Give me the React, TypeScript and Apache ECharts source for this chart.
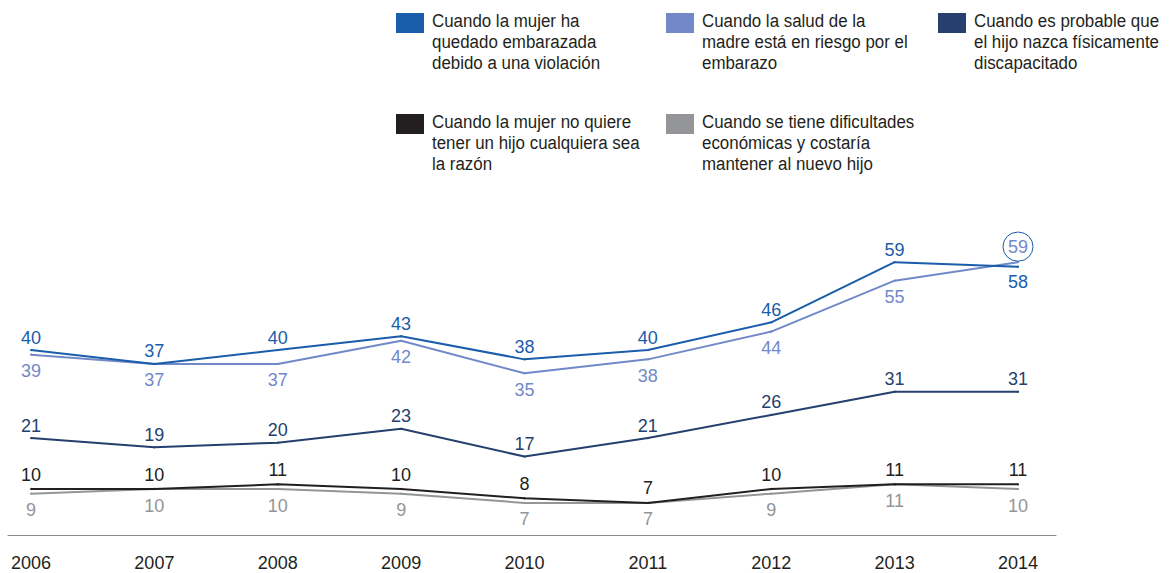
import React, { useEffect, useRef } from "react";
import * as echarts from "echarts";

const years = ["2006", "2007", "2008", "2009", "2010", "2011", "2012", "2013", "2014"];

const seriesNames = [
  "Cuando la mujer ha quedado embarazada debido a una violación",
  "Cuando la salud de la madre está en riesgo por el embarazo",
  "Cuando es probable que el hijo nazca físicamente discapacitado",
  "Cuando la mujer no quiere tener un hijo cualquiera sea la razón",
  "Cuando se tiene dificultades económicas y costaría mantener al nuevo hijo",
];

const legendLines = [
  "Cuando la mujer ha\nquedado embarazada\ndebido a una violación",
  "Cuando la salud de la\nmadre está en riesgo por el\nembarazo",
  "Cuando es probable que\nel hijo nazca físicamente\ndiscapacitado",
  "Cuando la mujer no quiere\ntener un hijo cualquiera sea\nla razón",
  "Cuando se tiene dificultades\neconómicas y costaría\nmantener al nuevo hijo",
];

const violacion = [40, 37, 40, 43, 38, 40, 46, 59, 58];
const saludMadre = [39, 37, 37, 42, 35, 38, 44, 55, 59];
const discapacitado = [21, 19, 20, 23, 17, 21, 26, 31, 31];
const noQuiere = [10, 10, 11, 10, 8, 7, 10, 11, 11];
const economicas = [9, 10, 10, 9, 7, 7, 9, 11, 10];

const colors = ["#1a5dab", "#7189c8", "#253f6e", "#231f20", "#939598"];
const labelPos = ["top", "bottom", "top", "top", "bottom"];
const labelDist = [2, 6, 2, 4, 6];

const FONT = "'Liberation Sans', Arial, sans-serif";

const legendSpots = [
  [396, 13],
  [666, 13],
  [938, 13],
  [396, 114],
  [666, 114],
];

export default function App() {
  const ref = useRef<HTMLDivElement>(null);
  useEffect(() => {
    if (!ref.current) return;
    const chart = echarts.init(ref.current, null, { renderer: "svg" });
    const allData = [violacion, saludMadre, discapacitado, noQuiere, economicas];
    const last = years.length - 1;

    const series = allData.map((vals, si) => ({
      name: seriesNames[si],
      type: "line",
      xAxisIndex: 0,
      yAxisIndex: 0,
      symbol: "circle",
      symbolSize: 2,
      showSymbol: true,
      z: 10 - si,
      lineStyle: { color: colors[si], width: 2 },
      itemStyle: { color: colors[si] },
      label: {
        show: true,
        position: labelPos[si],
        distance: labelDist[si],
        color: colors[si],
        fontFamily: FONT,
        fontSize: 18,
        lineHeight: 19,
      },
      data: vals.map((v, i) => {
        if (si === 0 && i === last) {
          return { value: v, label: { position: "bottom", distance: 5 } };
        }
        if (si === 1 && i === last) {
          return {
            value: v,
            label: {
              position: "top",
              distance: 0,
              borderColor: colors[0],
              borderWidth: 1,
              borderRadius: 15,
              padding: [5, 5, 5, 5],
            },
          };
        }
        return v;
      }),
    }));

    const legendGraphics = legendLines.map((txt, i) => ({
      type: "group",
      x: legendSpots[i][0],
      y: legendSpots[i][1],
      children: [
        {
          type: "rect",
          shape: { x: 0, y: 0, width: 28, height: 20 },
          style: { fill: colors[i] },
        },
        {
          type: "text",
          x: 36,
          y: -3,
          scaleX: 0.89,
          style: {
            text: txt,
            fill: "#231f20",
            font: `19px ${FONT}`,
            lineHeight: 21,
            verticalAlign: "top",
          },
        },
      ],
    }));

    chart.setOption({
      animation: false,
      backgroundColor: "#ffffff",
      grid: [
        { left: 31, right: 158, top: 257.5, bottom: 37.7 },
        { left: 8, right: 120, top: 257.5, bottom: 37.7 },
      ],
      xAxis: [
        {
          type: "category",
          gridIndex: 0,
          data: years,
          boundaryGap: false,
          axisLine: { show: false },
          axisTick: { show: false },
          splitLine: { show: false },
          axisLabel: {
            color: "#231f20",
            fontFamily: FONT,
            fontSize: 18,
            margin: 19,
          },
        },
        {
          type: "value",
          gridIndex: 1,
          min: 0,
          max: 1,
          axisLine: { show: true, lineStyle: { color: "#8a8a8a", width: 1 } },
          axisTick: { show: false },
          axisLabel: { show: false },
          splitLine: { show: false },
        },
      ],
      yAxis: [
        { type: "value", gridIndex: 0, min: 0, max: 60, show: false, splitLine: { show: false } },
        { type: "value", gridIndex: 1, min: 0, max: 1, show: false, splitLine: { show: false } },
      ],
      series,
      graphic: legendGraphics,
    });
    return () => chart.dispose();
  }, []);
  return (
    <div
      ref={ref}
      style={{ position: "absolute", left: 0, top: 0, width: 1176, height: 573 }}
    />
  );
}
